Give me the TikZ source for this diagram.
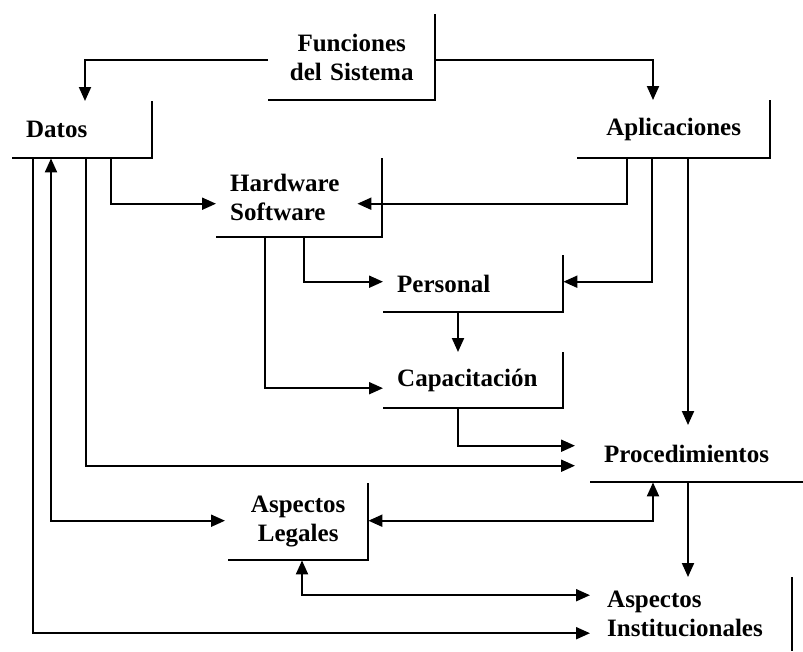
\documentclass[tikz,border=0pt]{standalone}
\usepackage{fontspec}
\setmainfont{Liberation Serif}
\usepackage{tikz}
\usetikzlibrary{arrows.meta, calc}

\newcommand{\lblfont}{\bfseries\fontsize{25}{29}\selectfont}
\newcommand{\bracket}[1]{\draw [brk] (#1.north east) |- (#1.south west);}

\tikzset{
    blk/.style={rectangle, anchor=north west, inner xsep=14pt, inner ysep=0pt, font=\lblfont, align=left},
    blkc/.style={blk, align=center},
    brk/.style={line width=2pt},
    conn/.style={line width=2pt, -{Triangle[length=14pt, width=12pt]}},
    dconn/.style={line width=2pt, {Triangle[length=14pt, width=12pt]}-{Triangle[length=14pt, width=12pt]}}
}

\begin{document}
\begin{tikzpicture}[x=1pt, y=-1pt]
        \useasboundingbox (0,0) rectangle (803,651);

        \node [blkc, text width=139pt, minimum height=86pt] (fun) at (268,14) {Funciones\\del Sistema};
        \node [blk, text width=112pt, minimum height=57pt] (datos) at (12,101) {Datos};
        \node [blkc, text width=165pt, minimum height=58pt] (apl) at (577,100) {Aplicaciones};
        \node [blk, text width=138pt, minimum height=79pt] (hw) at (216,158) {Hardware\\Software};
        \node [blk, text width=152pt, minimum height=57pt] (pers) at (383,255) {Personal};
        \node [blk, text width=152pt, minimum height=56pt] (cap) at (383,352) {Capacitación};
        \node [blk, text width=185pt, minimum height=57pt] (proc) at (590,425) {Procedimientos};
        \node [blkc, text width=112pt, minimum height=77pt] (leg) at (228,483) {Aspectos\\Legales};
        \node [blk, text width=171pt, minimum height=74pt] (inst) at (593,577) {Aspectos\\Institucionales};

        \bracket{fun}
        \bracket{datos}
        \bracket{apl}
        \bracket{hw}
        \bracket{pers}
        \bracket{cap}
        \bracket{leg}
        \draw [brk] (proc.south east) -- (proc.south west);
        \draw [brk] (inst.north east) -- (inst.south east);

        \draw [conn] ([yshift=-3pt]fun.west) -| (85,0 |- datos.north);
        \draw [conn] ([yshift=-3pt]fun.east) -| (653,0 |- apl.north);
        \draw [conn] (111,0 |- datos.south) |- ([yshift=-6pt]hw.west);
        \draw [conn] (627,0 |- apl.south) |- ([xshift=-25pt, yshift=-6pt]hw.east);
        \draw [conn] (304,0 |- hw.south) |- ([yshift=2pt]pers.west);
        \draw [conn] (265,0 |- hw.south) |- ([yshift=-8pt]cap.west);
        \draw [conn] (652,0 |- apl.south) |- ([yshift=2pt]pers.east);
        \draw [conn] (458,0 |- pers.south) -- (458,0 |- cap.north);
        \draw [conn] (458,0 |- cap.south) |- ([xshift=-15pt, yshift=8pt]proc.west);
        \draw [conn] (688,0 |- apl.south) -- (688,0 |- proc.north);
        \draw [conn] (86,0 |- datos.south) |- ([xshift=-15pt, yshift=-12pt]proc.west);
        \draw [dconn] (51,0 |- datos.south) |- ([xshift=-3pt, yshift=1pt]leg.west);
        \draw [dconn] (653,0 |- proc.south) |- ([yshift=1pt]leg.east);
        \draw [dconn] (302,0 |- leg.south) |- ([xshift=-3pt, yshift=19pt]inst.west);
        \draw [conn] (688,0 |- proc.south) -- (688,0 |- inst.north);
        \draw [conn] (33,0 |- datos.south) |- ([xshift=-3pt, yshift=-19pt]inst.west);
    \end{tikzpicture}
\end{document}
